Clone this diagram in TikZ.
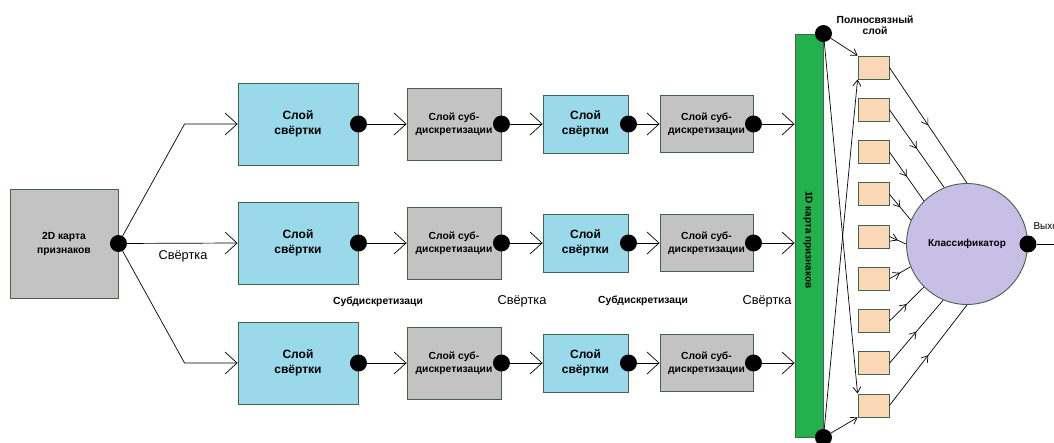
\documentclass[tikz,border=0pt]{standalone}
\usepackage{fontspec}
\setmainfont{Liberation Sans}
\usetikzlibrary{arrows.meta,calc,decorations.markings}

\definecolor{convblue}{HTML}{99D9EA}
\definecolor{poolgray}{HTML}{C3C3C3}
\definecolor{bargreen}{HTML}{22B14C}
\definecolor{neuronfill}{HTML}{F9D7B7}
\definecolor{clsfill}{HTML}{C8BFE7}
\definecolor{boxline}{HTML}{44634A}

\tikzset{
  box/.style={draw=boxline, line width=0.9pt, align=center, inner sep=0pt},
  convbox/.style={box, fill=convblue, font=\bfseries\fontsize{12}{15}\selectfont},
  poolbox/.style={box, fill=poolgray, font=\bfseries\fontsize{10.3}{13}\selectfont},
  neuron/.style={box, fill=neuronfill, minimum width=31pt, minimum height=23pt},
  dot/.style={circle, fill=black, inner sep=0pt, minimum size=17pt},
  bigarrow/.style={-{Straight Barb[length=12pt,width=22pt]}, line width=0.7pt},
  smallarrow/.style={-{Straight Barb[length=6pt,width=8pt]}, line width=0.7pt},
  midarrow/.style={line width=0.7pt, postaction={decorate},
    decoration={markings, mark=at position 0.5 with {\arrow{Straight Barb[length=6pt,width=8pt]}}}},
  lbl/.style={font=\bfseries\fontsize{10.3}{11.5}\selectfont, align=center},
  biglbl/.style={font=\fontsize{12.8}{14}\selectfont},
}

\begin{document}
\begin{tikzpicture}[x=1pt, y=-1pt]
    \useasboundingbox (0,0) rectangle (1054,442);

    % 2D feature map
    \node[box, fill=poolgray, minimum width=108pt, minimum height=109pt,
          font=\bfseries\fontsize{10.3}{14}\selectfont] (map) at (64,243.5) {2D карта\\признаков};
    \node[dot] (mapdot) at (map.east) {};

    % three rows of layers
    \foreach \r/\y in {1/124,2/243,3/363} {
        \node[convbox, minimum width=120pt, minimum height=82pt] (c\r) at (298,\y) {Слой\\свёртки};
        \node[dot] (cd\r) at (c\r.east) {};
        \node[poolbox, minimum width=94pt, minimum height=72pt] (p\r) at (454,\y) {Слой суб-\\дискретизации};
        \node[dot] (pd\r) at (p\r.east) {};
        \node[convbox, minimum width=85pt, minimum height=58pt] (s\r) at (585.5,\y) {Слой\\свёртки};
        \node[dot] (sd\r) at (s\r.east) {};
        \node[poolbox, minimum width=93pt, minimum height=57pt] (q\r) at (706.5,\y) {Слой суб-\\дискретизации};
        \node[dot] (qd\r) at (q\r.east) {};
    }

    % 1D feature map
    \node[box, fill=bargreen, minimum width=28pt, minimum height=403pt] (bar) at (809,235.5) {};
    \node[rotate=-90, font=\bfseries\fontsize{10}{11}\selectfont] (bartext) at (808,240) {1D карта признаков};
    \node[dot] (bartop) at (bar.north east) {};
    \node[dot] (barbot) at (bar.south east) {};

    % fork from the 2D map
    \draw[bigarrow] (mapdot) -- ($(c1.west)+(-53,0)$) -- (c1.west);
    \draw[bigarrow] (mapdot) -- (c2.west);
    \draw[bigarrow] (mapdot) -- ($(c3.west)+(-53,0)$) -- (c3.west);

    % links along the rows
    \foreach \r in {1,2,3} {
        \draw[bigarrow] (cd\r) -- (p\r.west);
        \draw[bigarrow] (pd\r) -- (s\r.west);
        \draw[bigarrow] (sd\r) -- (q\r.west);
        \draw[bigarrow] (qd\r) -- (bar.west |- qd\r);
    }

    % labels between the rows
    \node[biglbl] (lconv1) at (183,256) {Свёртка};
    \node[lbl] (lpool1) at (378,302) {Субдискретизаци};
    \node[biglbl] (lconv2) at (522,301) {Свёртка};
    \node[lbl] (lpool2) at (643,301) {Субдискретизаци};
    \node[biglbl] (lconv3) at (767,301) {Свёртка};

    % fully connected layer
    \node[lbl] (fclbl) at (875,25) {Полносвязный\\слой};
    \foreach \i in {1,...,9}
        \node[neuron] (n\i) at (873.5,{67.5+42.25*(\i-1)}) {};

    \draw[smallarrow] (bartop) -- (n1.north west);
    \draw[smallarrow] (bartop) -- (n9.north west);
    \draw[smallarrow] (barbot) -- (n9.south west);
    \draw[smallarrow] (barbot) -- (n1.south west);

    % classifier
    \node[circle, draw=boxline, line width=0.9pt, fill=clsfill, minimum size=121pt, inner sep=0pt,
          font=\bfseries\fontsize{10}{12}\selectfont] (cls) at (967,244) {Классификатор};
    \foreach \i in {1,...,9} {
        \pgfmathsetmacro\ang{90+22.5*(\i-1)}
        \draw[midarrow] (n\i.east) -- (cls.\ang);
    }

    % output
    \node[dot] (outdot) at (cls.east) {};
    \coordinate (outend) at (1054,244);
    \draw[line width=0.7pt] (outdot) -- (outend);
    \node[anchor=west, font=\fontsize{10}{12}\selectfont] (outlbl) at (1030,227) {Выход};
\end{tikzpicture}
\end{document}
